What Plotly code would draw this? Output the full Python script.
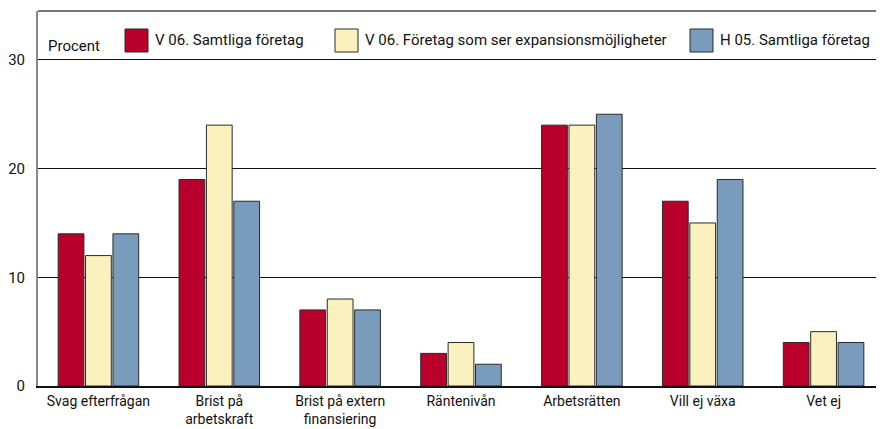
import plotly.graph_objects as go

categories = ["Svag efterfrågan", "Brist på<br>arbetskraft", "Brist på extern<br>finansiering",
              "Räntenivån", "Arbetsrätten", "Vill ej växa", "Vet ej"]
series_names = ["V 06. Samtliga företag", "V 06. Företag som ser expansionsmöjligheter",
                "H 05. Samtliga företag"]
v06_all = [14, 19, 7, 3, 24, 17, 4]
v06_exp = [12, 24, 8, 4, 24, 15, 5]
h05_all = [14, 17, 7, 2, 25, 19, 4]
colors = ["#B9002A", "#FBF1BE", "#7A9CBC"]
y_ticks = [0, 10, 20, 30]

FONT = "Roboto, Liberation Sans, Arial, sans-serif"

fig = go.Figure()
for name, vals, col in zip(series_names, [v06_all, v06_exp, h05_all], colors):
    fig.add_trace(go.Bar(x=list(range(len(categories))), y=vals, name=name,
                         marker=dict(color=col, line=dict(color="#2a2a2a", width=1)),
                         showlegend=False))

# page has 8px body margin; compensate
OFF = 8
W, H = 884 - OFF, 429 - OFF
ml, mr, mt, mb = 38 - OFF, 0, 11 - OFF, 43
fig.update_layout(
    width=W, height=H,
    margin=dict(l=ml, r=mr, t=mt, b=mb, pad=0, autoexpand=False),
    paper_bgcolor="white", plot_bgcolor="white",
    barmode="group", bargap=0.32, bargroupgap=0.06,
    font=dict(family=FONT, size=15, color="#111"),
    xaxis=dict(range=[-0.5, 6.5], tickmode="array", tickvals=list(range(len(categories))),
               ticktext=categories, showgrid=False, zeroline=False,
               showline=True, linecolor="#111", linewidth=1.5, ticks="",
               automargin=False, ticklabelstandoff=1,
               tickfont=dict(size=14, family=FONT, color="#111"), fixedrange=True),
    yaxis=dict(range=[0, 34.5], tickmode="array", tickvals=y_ticks,
               ticktext=[str(t) for t in y_ticks],
               showgrid=True, gridcolor="#111", gridwidth=1,
               zeroline=False, showline=True, linecolor="#888", linewidth=2,
               ticks="", ticklabelstandoff=8, automargin=False,
               tickfont=dict(size=15, family=FONT, color="#111"), fixedrange=True),
)

# top frame line
fig.add_shape(type="line", xref="paper", yref="paper", x0=0, x1=1, y0=1, y1=1,
              line=dict(color="#777", width=2))

# custom legend (page pixel -> paper coordinates)
pw = W - ml - mr
ph = H - mt - mb
def px_to_paper_x(px):
    return (px - OFF - ml) / pw
def px_to_paper_y(py):
    return 1 - (py - OFF - mt) / ph

legend_box_x = [125, 335, 690]
box_w = 23
ly0, ly1 = 29, 52
for bx, col, name in zip(legend_box_x, colors, series_names):
    fig.add_shape(type="rect", xref="paper", yref="paper",
                  x0=px_to_paper_x(bx), x1=px_to_paper_x(bx + box_w),
                  y0=px_to_paper_y(ly1), y1=px_to_paper_y(ly0),
                  fillcolor=col, line=dict(color="#2a2a2a", width=1))
    fig.add_annotation(xref="paper", yref="paper", x=px_to_paper_x(bx + box_w + 5),
                       y=px_to_paper_y(40), text=name, showarrow=False,
                       xanchor="left", yanchor="middle",
                       font=dict(size=15, family=FONT, color="#111"))

fig.add_annotation(xref="paper", yref="paper", x=px_to_paper_x(46), y=px_to_paper_y(46),
                   text="Procent", showarrow=False, xanchor="left", yanchor="middle",
                   font=dict(size=15, family=FONT, color="#111"))

fig.write_html("out.html")
